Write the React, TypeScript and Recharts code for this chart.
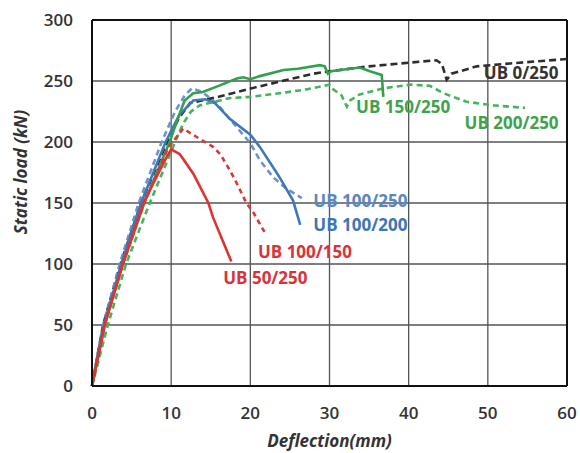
import React from "react";
import {
  LineChart,
  Line,
  XAxis,
  YAxis,
  CartesianGrid,
  ReferenceLine,
  ReferenceDot,
  Label,
} from "recharts";

// deflection (mm), static load (kN)
const ub0_250: [number, number][] = [
  [0, 0], [0.7, 25], [1.4, 50], [3.6, 100], [6.2, 150], [9.5, 200], [11, 220], [12.4, 232],
  [16, 237], [19.5, 243], [23.7, 249.5], [28, 256], [30, 258], [35, 262], [40, 265],
  [43.5, 267], [44.2, 264], [44.8, 251], [45.4, 256], [48.6, 262], [54, 265], [60, 268],
];

const ub150_250: [number, number][] = [
  [0, 0], [0.8, 25], [1.6, 50], [3.9, 100], [6.6, 150], [9.8, 200], [11, 222], [11.7, 234],
  [12.8, 240], [14, 241], [16, 246], [18.3, 252], [19.1, 253], [20, 251.5], [21.2, 254],
  [24.2, 259], [26, 260], [28.8, 263], [29.4, 262], [29.8, 256], [30.2, 258],
  [33.8, 261], [35.1, 258], [36.6, 255], [36.8, 237],
];

const ub200_250: [number, number][] = [
  [0, 0], [1, 25], [2, 50], [4.3, 100], [7.3, 150], [10.5, 200], [11.5, 215], [12.5, 225],
  [13.6, 230], [17.4, 236], [20, 237], [23.7, 240], [27, 243], [30, 247], [30.5, 243],
  [31.5, 238.5], [32.2, 229], [32.6, 234], [33.8, 239], [36.8, 244], [40.2, 247],
  [42.7, 246], [44.4, 240], [47.3, 233], [50.7, 230], [54.7, 228],
];

const ub100_250: [number, number][] = [
  [0, 0], [0.7, 25], [1.4, 50], [3.5, 100], [5.9, 150], [8.8, 200], [10.5, 225], [11.7, 238],
  [12.6, 244], [13.9, 241], [15.7, 232], [18.3, 212], [20, 199], [21.2, 185],
  [22.9, 171], [24.5, 162], [26.5, 154],
];

const ub100_200: [number, number][] = [
  [0, 0], [0.7, 25], [1.5, 50], [3.7, 100], [6.2, 150], [9.3, 200], [11, 222], [12.8, 234],
  [14.3, 235], [15.5, 232], [17.4, 219], [20, 206], [21.2, 196], [22.5, 183],
  [23.7, 171], [25.4, 152], [26.3, 132],
];

const ub100_150: [number, number][] = [
  [0, 0], [0.8, 25], [1.6, 50], [3.9, 100], [6.6, 150], [9.6, 195], [11.5, 211], [13.5, 203],
  [15.3, 196], [16.2, 190], [17.4, 177], [18.3, 166], [19.5, 150], [20.4, 142],
  [21.9, 125],
];

const ub50_250: [number, number][] = [
  [0, 0], [0.8, 25], [1.6, 50], [3.9, 100], [6.5, 150], [9.2, 185], [10, 194], [11.1, 190],
  [12.8, 174], [14.7, 150], [15.3, 138], [17.6, 102],
];

const xTicks = [0, 10, 20, 30, 40, 50, 60];
const yTicks = [0, 50, 100, 150, 200, 250, 300];

// label text, anchor point (mm, kN), colour
const curveLabels: { text: string; x: number; y: number; color: string }[] = [
  { text: "UB 0/250", x: 54.2, y: 256.6, color: "#333333" },
  { text: "UB 150/250", x: 39.3, y: 228.7, color: "#3da34e" },
  { text: "UB 200/250", x: 53.0, y: 215.6, color: "#3da34e" },
  { text: "UB 100/250", x: 33.9, y: 151.6, color: "#5b86c4" },
  { text: "UB 100/200", x: 33.9, y: 132, color: "#3f74b5" },
  { text: "UB 100/150", x: 26.9, y: 109.8, color: "#d8333a" },
  { text: "UB 50/250", x: 21.9, y: 88.5, color: "#d8333a" },
];

const toPoints = (arr: [number, number][]) => arr.map(([x, y]) => ({ x, y }));

const series = [
  { name: "UB 0/250", data: toPoints(ub0_250), color: "#2d2d2d", dash: "7 4" },
  { name: "UB 100/250", data: toPoints(ub100_250), color: "#6d92cc", dash: "6 4" },
  { name: "UB 100/200", data: toPoints(ub100_200), color: "#3f78b8", dash: undefined },
  { name: "UB 200/250", data: toPoints(ub200_250), color: "#47b45c", dash: "6 4" },
  { name: "UB 150/250", data: toPoints(ub150_250), color: "#32a04c", dash: undefined },
  { name: "UB 100/150", data: toPoints(ub100_150), color: "#d83a3a", dash: "5 4" },
  { name: "UB 50/250", data: toPoints(ub50_250), color: "#e03232", dash: undefined },
];

const tickStyle = {
  fontFamily: "Open Sans",
  fontWeight: 600,
  fontSize: 17,
  fill: "#333",
};

const titleStyle = {
  fontFamily: "Open Sans",
  fontWeight: 700,
  fontStyle: "italic",
  fontSize: 17,
  fill: "#333",
};

const YTitle = () => (
  <text
    x={20}
    y={172}
    transform="rotate(-90 20 172)"
    textAnchor="middle"
    dominantBaseline="central"
    style={titleStyle}
  >
    Static load (kN)
  </text>
);

export default function App() {
  return (
    <div style={{ position: "absolute", left: 0, top: 0 }}>
      <LineChart
        width={580}
        height={453}
        margin={{ top: 20, right: 13, left: 0, bottom: 0 }}
      >
        <CartesianGrid stroke="#555" strokeWidth={1.3} />
        <XAxis
          type="number"
          dataKey="x"
          domain={[0, 60]}
          ticks={xTicks}
          height={67}
          tickSize={0}
          tickMargin={21}
          axisLine={{ stroke: "#111", strokeWidth: 2 }}
          tick={tickStyle}
        >
          <Label
            value="Deflection(mm)"
            position="insideBottom"
            offset={6}
            style={titleStyle}
          />
        </XAxis>
        <YAxis
          type="number"
          dataKey="y"
          domain={[0, 300]}
          ticks={yTicks}
          width={92}
          tickSize={0}
          tickMargin={19}
          axisLine={{ stroke: "#111", strokeWidth: 2 }}
          tick={tickStyle}
        >
          <Label content={<YTitle />} />
        </YAxis>
        <ReferenceLine y={300} stroke="#111" strokeWidth={2} />
        <ReferenceLine x={60} stroke="#111" strokeWidth={2} />
        {series.map((s) => (
          <Line
            key={s.name}
            data={s.data}
            dataKey="y"
            type="linear"
            stroke={s.color}
            strokeWidth={2.6}
            strokeDasharray={s.dash}
            dot={false}
            activeDot={false}
            isAnimationActive={false}
          />
        ))}
        {curveLabels.map((l) => (
          <ReferenceDot
            key={l.text}
            x={l.x}
            y={l.y}
            r={0}
            fill="none"
            stroke="none"
            label={{
              value: l.text,
              position: "center",
              fill: l.color,
              fontSize: 17,
              fontWeight: 700,
              fontFamily: "Open Sans",
            }}
          />
        ))}
      </LineChart>
    </div>
  );
}
